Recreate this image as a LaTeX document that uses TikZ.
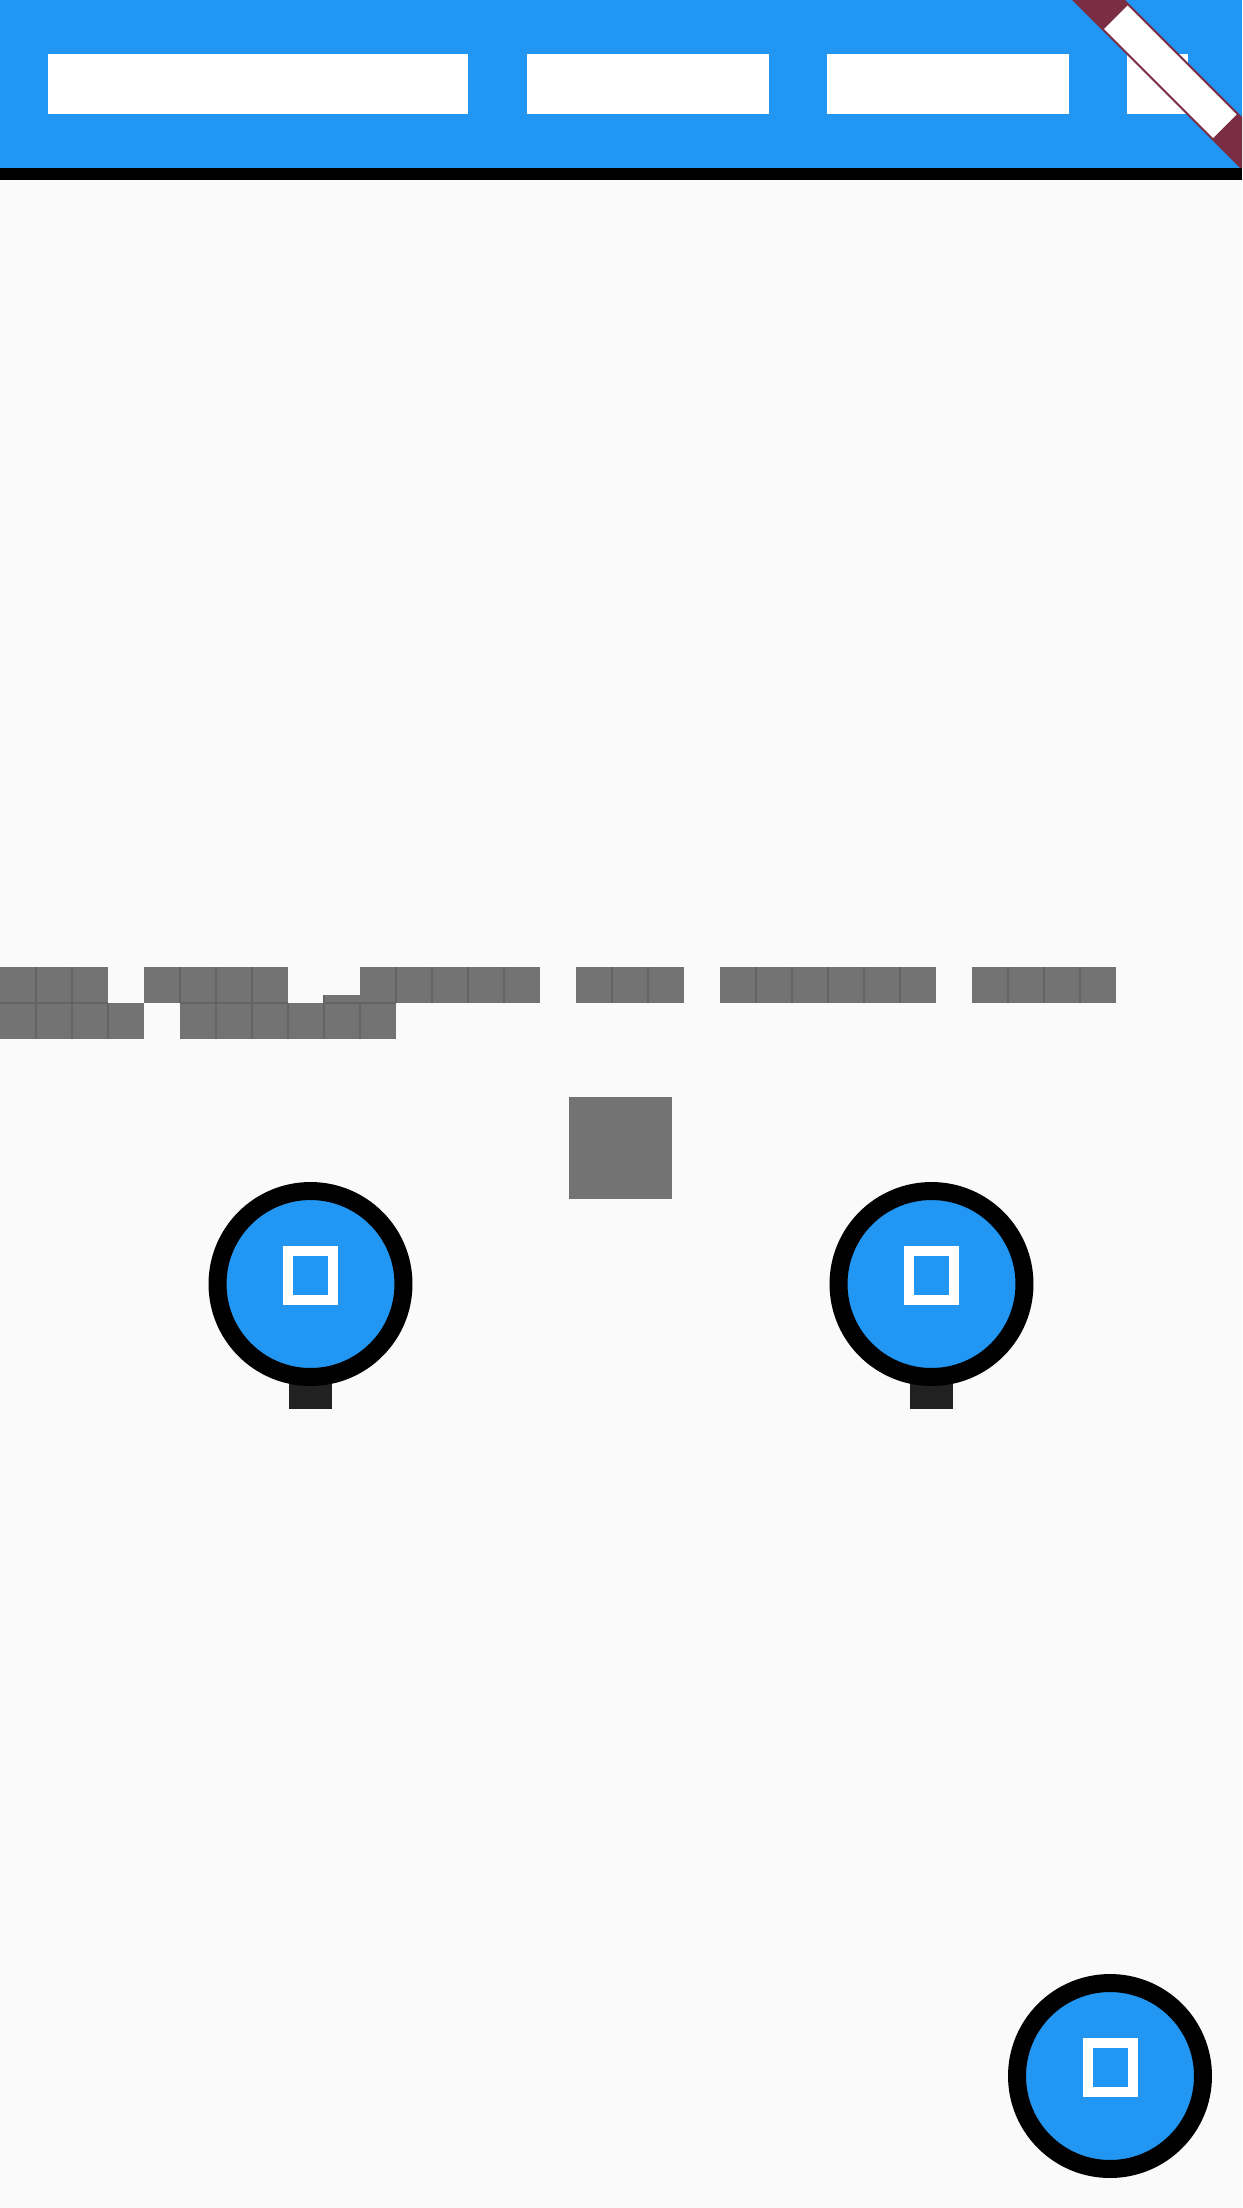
\documentclass[tikz,border=0pt]{standalone}
\definecolor{barblue}{HTML}{2196F3}
\definecolor{pagebg}{HTML}{FAFAFA}
\definecolor{cellgrey}{HTML}{737373}
\definecolor{seamgrey}{HTML}{646464}
\definecolor{stemgrey}{HTML}{212121}
\definecolor{ribbon}{HTML}{7B2D43}
\tikzset{
  cellbox/.style={fill=cellgrey,draw=none},
  seam/.style={draw=seamgrey,line width=0.03cm},
  whitebox/.style={fill=white,draw=none},
  fabdisc/.style={circle,fill=barblue,draw=black,line width=0.36cm,minimum size=3.72cm,inner sep=0pt,outer sep=0pt},
  fabicon/.style={rectangle,draw=white,line width=0.2cm,minimum width=0.9cm,minimum height=0.98cm,inner sep=0pt,outer sep=0pt},
  stembox/.style={fill=stemgrey,draw=none}
}
\begin{document}
\begin{tikzpicture}[x=0.02cm,y=-0.02cm]
\useasboundingbox (0,0) rectangle (1242,2208);
\fill[pagebg] (0,0) rectangle (1242,2208);
% app bar
\fill[barblue] (0,0) rectangle (1242,168);
\fill[black] (0,168) rectangle (1242,180);
\fill[whitebox] (48,54) rectangle (468,114);
\fill[whitebox] (527,54) rectangle (769,114);
\fill[whitebox] (827,54) rectangle (1069,114);
\fill[whitebox] (1127,54) rectangle (1188,114);
% corner ribbon
\fill[ribbon] (1072,0) -- (1125,0) -- (1242,117) -- (1242,168) -- (1240,168) -- cycle;
\fill[whitebox] (1127.5,5.5) -- (1236.5,114.5) -- (1213,138) -- (1104,29) -- cycle;
% row one of cells
\foreach \a/\b in {0/108,144/288,360/540,576/684,720/936,972/1116}{
  \fill[cellbox] (\a,967) rectangle (\b,1003);
}
% row two of cells
\foreach \a/\b in {0/144,180/396}{
  \fill[cellbox] (\a,1003) rectangle (\b,1039);
}
\fill[cellbox] (324,995) rectangle (360,1003);
% seams, row one
\foreach \x in {36,72,180,216,252,396,432,468,504,612,648,756,792,828,864,900,1008,1044,1080}{
  \draw[seam] (\x,967) -- (\x,1003);
}
% seams, row two
\foreach \x in {36,72,108,216,252,288,324,360}{
  \draw[seam] (\x,1003) -- (\x,1039);
}
% horizontal seams
\foreach \a/\b in {0/108,180/288,360/396}{
  \draw[seam] (\a,1003) -- (\b,1003);
}
\draw[seam] (324,995) -- (324,1003);
\draw[seam] (324,1003) -- (360,1003);
% grey square
\fill[cellbox] (569,1097) rectangle (672,1199);
% stems
\fill[stembox] (289,1370) rectangle (332,1409);
\fill[stembox] (910,1370) rectangle (953,1409);
% buttons
\node[fabdisc] (fabA) at (310.5,1284) {};
\node[fabdisc] (fabB) at (931.5,1284) {};
\node[fabdisc] (fabC) at (1110,2076) {};
\node[fabicon] (iconA) at (310.5,1275.5) {};
\node[fabicon] (iconB) at (931.5,1275.5) {};
\node[fabicon] (iconC) at (1110,2067.5) {};
\end{tikzpicture}
\end{document}
